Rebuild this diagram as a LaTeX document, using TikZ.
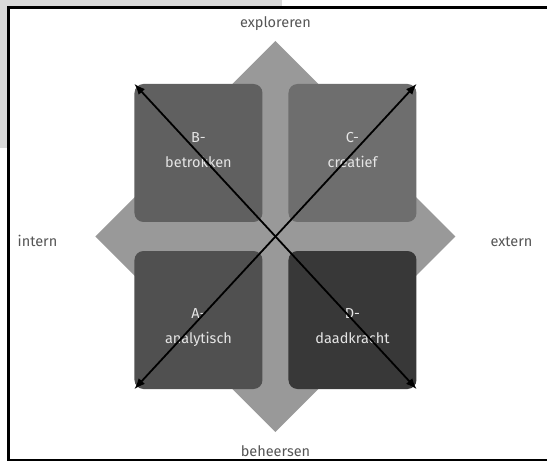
\documentclass[tikz,border=0pt]{standalone}
\usepackage{fontspec}
\setmainfont{Fira Sans}
\usetikzlibrary{arrows.meta}
\definecolor{crossgray}{HTML}{999999}
\definecolor{sheetgray}{HTML}{D9D9D9}
\definecolor{quadA}{HTML}{505050}
\definecolor{quadB}{HTML}{606060}
\definecolor{quadC}{HTML}{6E6E6E}
\definecolor{quadD}{HTML}{383838}
\definecolor{axistext}{HTML}{555555}
\tikzset{
  quad/.style={%
    rounded corners=9pt,
    minimum width=128pt,
    minimum height=138pt,
    inner sep=0pt,
  },
  quadtext/.style={%
    align=center,
    text=white!90!black,
    font=\fontsize{14.5}{25}\selectfont,
    inner sep=0pt,
  },
  axislabel/.style={%
    anchor=base,
    text=axistext,
    font=\fontsize{14.5}{17}\selectfont,
    inner sep=0pt,
  },
  diag/.style={%
    line width=1.8pt,
    {Latex[length=11pt,width=8.5pt]}-{Latex[length=11pt,width=8.5pt]},
  },
}

\begin{document}
\begin{tikzpicture}[x=1pt,y=1pt]
\useasboundingbox (-275.5,-224.5) rectangle (271.5,236.5);
% sheet behind the frame
\fill[sheetgray] (-275.5,236.5) rectangle (6.5,88.5);
\filldraw[fill=white,draw=black,line width=2.7pt] (-267,229) rectangle (290,-223.5);
% cross with four arrow heads
\fill[crossgray] (0,195.5) -- (-100,95.5) -- (-100,80) -- (-180,0)
  -- (-100,-80) -- (-100,-95.5) -- (0,-195.5) -- (100,-95.5)
  -- (100,-80) -- (180,0) -- (100,80) -- (100,95.5) -- cycle;
% quadrants
\node[quad,fill=quadB] (B) at (-77,83.5) {};
\node[quad,fill=quadC] (C) at (77,83.5) {};
\node[quad,fill=quadA] (A) at (-77,-83.5) {};
\node[quad,fill=quadD] (D) at (77,-83.5) {};
\node[quadtext] (Btxt) at ([yshift=3pt]B.center) {B-\\betrokken};
\node[quadtext] (Ctxt) at ([yshift=3pt]C.center) {C-\\creatief};
\node[quadtext] (Atxt) at ([yshift=-8pt]A.center) {A-\\analytisch};
\node[quadtext] (Dtxt) at ([yshift=-6.5pt]D.center) {D-\\daadkracht};
% axes
\node[axislabel] (explo) at (0,209) {exploreren};
\node[axislabel] (behe) at (0,-219.5) {beheersen};
\node[axislabel] (intern) at (-238,-9.5) {intern};
\node[axislabel] (extern) at (236,-9.5) {extern};
% diagonals
\draw[diag] (B.north west) -- (D.south east);
\draw[diag] (C.north east) -- (A.south west);
\end{tikzpicture}
\end{document}
